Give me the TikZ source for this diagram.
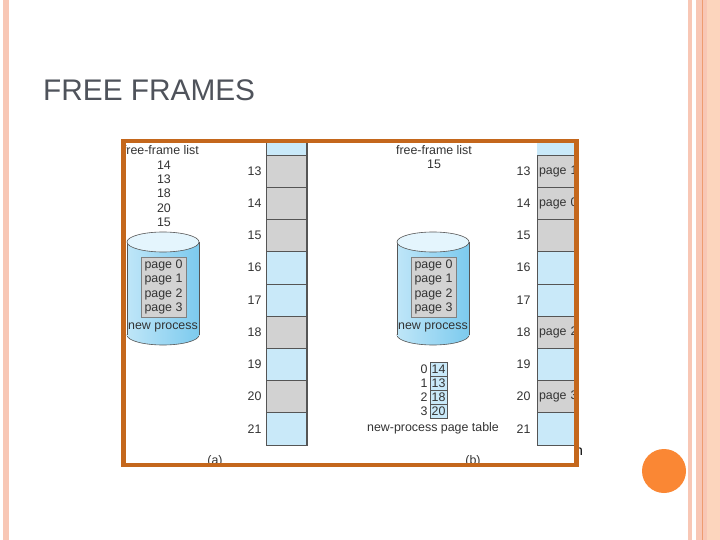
\documentclass[tikz,border=0pt]{standalone}
\usepackage{fontspec}
\setmainfont{Liberation Sans}
\usetikzlibrary{positioning}

\definecolor{slidepink}{HTML}{F8C7B5}
\definecolor{slideline}{HTML}{EE9C70}
\definecolor{dotorange}{HTML}{FA8734}
\definecolor{boxorange}{HTML}{C4671C}
\definecolor{titlegray}{HTML}{4F535B}
\definecolor{txtgray}{HTML}{333333}
\definecolor{memblue}{HTML}{C9E9F9}
\definecolor{memgray}{HTML}{D2D2D2}
\definecolor{edgegray}{HTML}{555555}
\definecolor{cylleft}{HTML}{BFE6F8}
\definecolor{cylmid}{HTML}{E2F4FC}
\definecolor{cylright}{HTML}{7CCAEE}
\definecolor{cyltop}{HTML}{E4F5FD}

\tikzset{
  figtext/.style={text=txtgray, font=\fontsize{12.4}{14.2}\selectfont, inner sep=0pt},
  memframe/.style={draw=edgegray, line width=0.6pt, minimum width=41pt, minimum height=32.2pt, inner sep=0pt},
  pagebox/.style={figtext, draw=gray, fill=memgray, line width=0.6pt, minimum width=45pt, minimum height=60pt, align=center},
  ptbox/.style={figtext, draw=edgegray, fill=memblue, line width=0.6pt, minimum width=17pt, minimum height=14pt}
}

% disk of the new process: #1 = centre x, #2 = name suffix
\newcommand{\procdisk}[2]{%
  \shadedraw[left color=cylleft, middle color=cylmid, right color=cylright, draw=edgegray, line width=0.6pt] (#1,335) ellipse [x radius=36, y radius=10];
  \shade[left color=cylleft, middle color=cylmid, right color=cylright] (#1-36,242) rectangle (#1+36,335);
  \draw[edgegray, line width=0.6pt] (#1-36,242) -- (#1-36,335) (#1+36,242) -- (#1+36,335);
  \draw[edgegray, line width=0.6pt, fill=cyltop] (#1,242) ellipse [x radius=36, y radius=10];
  \node[pagebox] (pages#2) at (#1+0.5,287) {page 0\\page 1\\page 2\\page 3};
  \node[figtext] (newproc#2) at (#1,327) {new process};
}

\begin{document}
\begin{tikzpicture}[x=1pt, y=-1pt]
  \useasboundingbox (0,0) rectangle (720,540);
  \fill[white] (0,0) rectangle (720,540);

  % slide decoration
  \fill[slidepink] (3,0) rectangle (9,540);
  \fill[slidepink] (688,0) rectangle (692,540);
  \fill[slidepink] (696,0) rectangle (720,540);
  \fill[slidepink!80!orange!60] (707,0) rectangle (720,540);
  \draw[slideline, line width=1pt] (702.5,0) -- (702.5,540);
  \fill[dotorange] (664,471) circle (22);

  \node[anchor=base west, text=titlegray, font=\fontsize{29.8}{36}\selectfont, inner sep=0pt] (title) at (43,101) {FREE FRAMES};

  \begin{scope}
    \clip (126,143) rectangle (574,463);

    % (a) before allocation
    \node[figtext, anchor=west] (freea) at (122.8,150) {free-frame list};
    \node[figtext, align=center, below=6pt of freea.south, xshift=3pt] (lista) {14\\13\\18\\20\\15};
    \procdisk{163}{a}
    \fill[memblue] (266,143) rectangle (307,155);
    \draw[edgegray, line width=0.6pt] (266,143) -- (266,155);
    \foreach \n/\c [count=\i from 0] in {13/memgray,14/memgray,15/memgray,16/memblue,17/memblue,18/memgray,19/memblue,20/memgray,21/memblue} {
      \node[memframe, fill=\c] (a\n) at (286.5,171.1+32.2*\i) {};
      \node[figtext, left=4pt of a\n] {\n};
    }
    \draw[edgegray, line width=1.6pt] (307,143) -- (307,444.8);
    \node[figtext] (capa) at (215,461) {(a)};

    % (b) after allocation
    \node[figtext, align=center] (freeb) at (434,157) {free-frame list\\15};
    \procdisk{433}{b}
    \node[ptbox] (pt0) at (438.5,369) {14};
    \node[ptbox] (pt1) at (438.5,383) {13};
    \node[ptbox] (pt2) at (438.5,397) {18};
    \node[ptbox] (pt3) at (438.5,411) {20};
    \foreach \k in {0,1,2,3} {
      \node[figtext, left=2pt of pt\k] {\k};
    }
    \node[figtext] (ptname) at (433,428) {new-process page table};
    \fill[memblue] (537,143) rectangle (591,155);
    \foreach \n/\c/\t [count=\i from 0] in {13/memgray/page 1,14/memgray/page 0,15/memgray/,16/memblue/,17/memblue/,18/memgray/page 2,19/memblue/,20/memgray/page 3,21/memblue/} {
      \node[memframe, figtext, fill=\c, inner xsep=2pt, text width=50pt, align=left] (b\n) at (564,171.1+32.2*\i) {\t};
      \node[figtext, left=6pt of b\n] {\n};
    }
    \node[figtext] (capb) at (473,461) {(b)};
  \end{scope}

  \node[anchor=base west, font=\fontsize{14}{16}\selectfont, inner sep=0pt] (stray) at (575,455) {n};
  \draw[boxorange, line width=4.5pt] (123.5,141) rectangle (576.5,465);
\end{tikzpicture}
\end{document}
